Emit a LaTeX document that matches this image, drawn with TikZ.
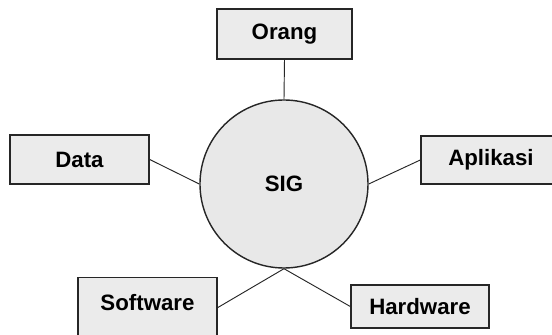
\documentclass[tikz,border=0pt]{standalone}
\usepackage{fontspec}
\setmainfont{Liberation Sans}

\begin{document}
\begin{tikzpicture}[
    x=0.03cm, y=0.03cm,
    every node/.style={font=\fontsize{19}{21}\selectfont\bfseries},
    part/.style={draw=black!85, line width=1.2pt, fill=gray!16, align=center, minimum width=4.17cm, minimum height=1.47cm},
    core/.style={circle, draw=black!85, line width=1.2pt, fill=gray!18, minimum size=5.04cm, inner sep=0pt},
    link/.style={draw=black!85, line width=0.8pt}
]
\clip (-284,-151) rectangle (268,184);
\node[core] (sig) at (0,0) {SIG};
\node[part, minimum width=4.05cm, minimum height=1.5cm] (orang) at (0.5,150) {Orang};
\node[part] (data) at (-204.5,24.5) {Data};
\node[part, minimum width=4.2cm, minimum height=1.44cm] (aplikasi) at (207,24) {Aplikasi};
\node[part, anchor=north, inner ysep=0pt, text height=0.99cm, text depth=1.3cm] (software) at (-136.5,-93) {Software};
\node[part, minimum width=4.14cm, minimum height=1.29cm] (hardware) at (136,-122.5) {Hardware};
\draw[link] (orang.south) -- (sig.north);
\draw[link] (data.east) -- (sig.west);
\draw[link] (aplikasi.west) -- (sig.east);
\draw[link] (software.mid east) -- (sig.south);
\draw[link] (hardware.west) -- (sig.south);
\end{tikzpicture}
\end{document}
